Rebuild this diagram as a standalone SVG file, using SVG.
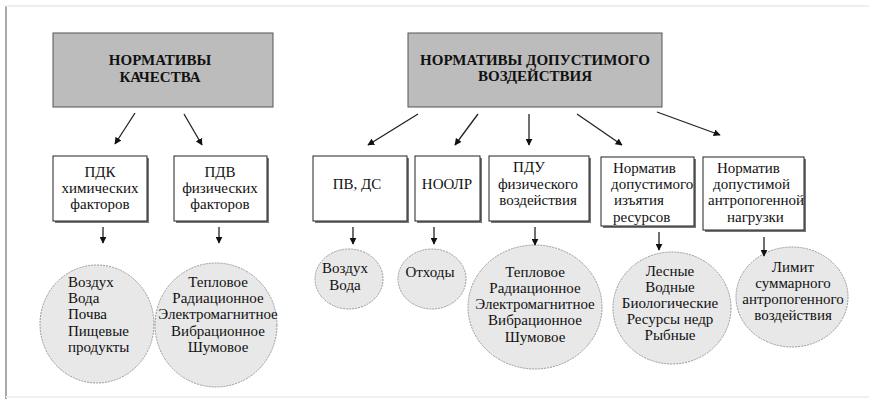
<svg xmlns="http://www.w3.org/2000/svg" width="869" height="399" viewBox="0 0 869 399">
<defs>
<marker id="ah" viewBox="0 0 10 10" refX="9" refY="5" markerWidth="7" markerHeight="7" markerUnits="userSpaceOnUse" orient="auto">
<path d="M0,0 L10,5 L0,10 z" fill="#111"/>
</marker>
<style>
.hdr{fill:#bcbcbc;stroke:#555;stroke-width:1}
.box{fill:#fff;stroke:#222;stroke-width:1}
.sh{fill:#777}
.cir{fill:#e8e8e8;stroke:#999;stroke-width:1;stroke-dasharray:2 1}
.ht{font-family:"Liberation Serif",serif;font-size:15px;font-weight:bold;fill:#111;text-anchor:middle}
.t{font-family:"Liberation Serif",serif;font-size:15px;fill:#111;text-anchor:middle}
.tl{font-family:"Liberation Serif",serif;font-size:15px;fill:#111}
.c{stroke:#222;stroke-width:1.3;fill:none;marker-end:url(#ah)}
</style>
</defs>
<rect width="869" height="399" fill="#fff"/>
<line x1="6" y1="6" x2="6" y2="399" stroke="#aaa" stroke-width="2"/>
<line x1="6" y1="6" x2="869" y2="6" stroke="#eee" stroke-width="2"/>
<line x1="6" y1="397" x2="869" y2="397" stroke="#f0f0f0" stroke-width="2"/>

<g id="n-kach">
<rect class="hdr" x="53" y="33" width="220" height="74"/>
<text class="ht" x="160" y="65">НОРМАТИВЫ</text>
<text class="ht" x="160" y="82">КАЧЕСТВА</text>
</g>
<g id="n-dop">
<rect class="hdr" x="408" y="33" width="254" height="74"/>
<text class="ht" x="535" y="65">НОРМАТИВЫ ДОПУСТИМОГО</text>
<text class="ht" x="535" y="81">ВОЗДЕЙСТВИЯ</text>
</g>

<g id="n-pdk">
<rect class="sh" x="55" y="158" width="94" height="65"/>
<rect class="box" x="53" y="156" width="94" height="65"/>
<text class="t" x="100" y="177">ПДК</text>
<text class="t" x="100" y="193">химических</text>
<text class="t" x="100" y="209">факторов</text>
</g>
<g id="n-pdv">
<rect class="sh" x="176" y="158" width="93" height="65"/>
<rect class="box" x="174" y="156" width="93" height="65"/>
<text class="t" x="220" y="177">ПДВ</text>
<text class="t" x="220" y="193">физических</text>
<text class="t" x="220" y="209">факторов</text>
</g>
<g id="n-pvds">
<rect class="sh" x="315" y="158" width="94" height="65"/>
<rect class="box" x="313" y="156" width="94" height="65"/>
<text class="t" x="357" y="189">ПВ, ДС</text>
</g>
<g id="n-noolr">
<rect class="sh" x="417" y="158" width="65" height="65"/>
<rect class="box" x="415" y="156" width="65" height="65"/>
<text class="t" x="447" y="189">НООЛР</text>
</g>
<g id="n-pdu">
<rect class="sh" x="491" y="158" width="100" height="65"/>
<rect class="box" x="489" y="156" width="100" height="65"/>
<text class="t" x="529" y="172">ПДУ</text>
<text class="t" x="538" y="189">физического</text>
<text class="t" x="538" y="205">воздействия</text>
</g>
<g id="n-izyat">
<rect class="sh" x="603" y="159" width="93" height="69"/>
<rect class="box" x="601" y="157" width="93" height="69"/>
<text class="tl" x="613" y="173">Норматив</text>
<text class="tl" x="611" y="189">допустимого</text>
<text class="tl" x="614" y="205">изъятия</text>
<text class="tl" x="613" y="222">ресурсов</text>
</g>
<g id="n-nagr">
<rect class="sh" x="705" y="159" width="101" height="73"/>
<rect class="box" x="703" y="157" width="101" height="73"/>
<text class="tl" x="717" y="173">Норматив</text>
<text class="tl" x="713" y="189">допустимой</text>
<text class="tl" x="708" y="205">антропогенной</text>
<text class="tl" x="727" y="222">нагрузки</text>
</g>

<g id="c-pdk">
<ellipse class="cir" cx="97" cy="324" rx="57" ry="59"/>
<text class="tl" x="68" y="287">Воздух</text>
<text class="tl" x="68" y="303">Вода</text>
<text class="tl" x="68" y="319">Почва</text>
<text class="tl" x="68" y="336">Пищевые</text>
<text class="tl" x="68" y="352">продукты</text>
</g>
<g id="c-pdv">
<ellipse class="cir" cx="216" cy="325" rx="61" ry="62"/>
<text class="t" x="218" y="287">Тепловое</text>
<text class="t" x="218" y="303">Радиационное</text>
<text class="t" x="218" y="319">Электромагнитное</text>
<text class="t" x="218" y="336">Вибрационное</text>
<text class="t" x="218" y="352">Шумовое</text>
</g>
<g id="c-pvds">
<ellipse class="cir" cx="349" cy="279" rx="34" ry="30"/>
<text class="t" x="345" y="273">Воздух</text>
<text class="t" x="345" y="290">Вода</text>
</g>
<g id="c-noolr">
<ellipse class="cir" cx="432" cy="279" rx="34" ry="30"/>
<text class="t" x="430" y="277">Отходы</text>
</g>
<g id="c-pdu">
<ellipse class="cir" cx="535" cy="307" rx="67" ry="62"/>
<text class="t" x="535" y="277">Тепловое</text>
<text class="t" x="535" y="293">Радиационное</text>
<text class="t" x="535" y="309">Электромагнитное</text>
<text class="t" x="535" y="325">Вибрационное</text>
<text class="t" x="535" y="342">Шумовое</text>
</g>
<g id="c-izyat">
<ellipse class="cir" cx="672" cy="308" rx="59" ry="56"/>
<text class="t" x="670" y="276">Лесные</text>
<text class="t" x="670" y="292">Водные</text>
<text class="t" x="670" y="308">Биологические</text>
<text class="t" x="670" y="324">Ресурсы недр</text>
<text class="t" x="670" y="340">Рыбные</text>
</g>
<g id="c-nagr">
<ellipse class="cir" cx="792" cy="297" rx="56" ry="50"/>
<text class="t" x="793" y="272">Лимит</text>
<text class="t" x="793" y="288">суммарного</text>
<text class="t" x="793" y="304">антропогенного</text>
<text class="t" x="793" y="320">воздействия</text>
</g>

<g id="connectors">
<line class="c" x1="135" y1="113" x2="115" y2="144"/>
<line class="c" x1="184" y1="114" x2="202" y2="145"/>
<line class="c" x1="418" y1="114" x2="368" y2="145"/>
<line class="c" x1="478" y1="114" x2="455" y2="145"/>
<line class="c" x1="529" y1="114" x2="529" y2="145"/>
<line class="c" x1="577" y1="114" x2="622" y2="145"/>
<line class="c" x1="657" y1="112" x2="720" y2="135"/>
<line class="c" x1="103" y1="227" x2="103" y2="243"/>
<line class="c" x1="219" y1="227" x2="219" y2="243"/>
<line class="c" x1="353" y1="227" x2="353" y2="244"/>
<line class="c" x1="434" y1="227" x2="434" y2="244"/>
<line class="c" x1="535" y1="227" x2="535" y2="245"/>
<line class="c" x1="659" y1="232" x2="659" y2="250"/>
<line class="c" x1="764" y1="237" x2="764" y2="256"/>
</g>
</svg>
